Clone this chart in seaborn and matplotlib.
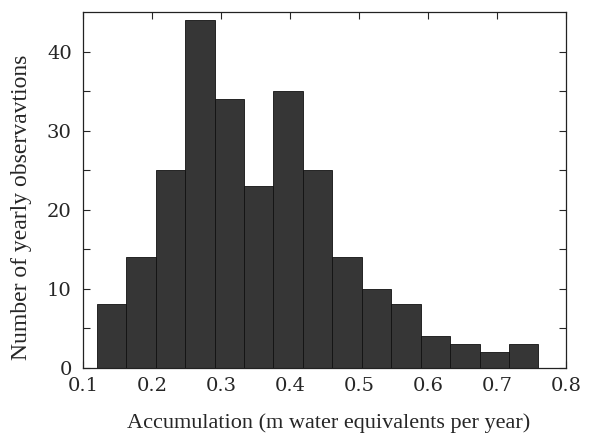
import numpy as np
import pandas as pd
import matplotlib
matplotlib.use("Agg")
import matplotlib.pyplot as plt
import seaborn as sns

# data
bin_start = 0.12
bin_end = 0.76
counts = [8, 14, 25, 44, 34, 23, 35, 25, 14, 10, 8, 4, 3, 2, 3]
x_ticks = [0.1, 0.2, 0.3, 0.4, 0.5, 0.6, 0.7, 0.8]
y_ticks = [0, 10, 20, 30, 40]

sns.set_theme(style="ticks")
plt.rcParams['font.family'] = ['Liberation Serif', 'DejaVu Serif']

edges = np.linspace(bin_start, bin_end, len(counts) + 1)
centers = (edges[:-1] + edges[1:]) / 2
df = pd.DataFrame({"acc": centers, "n": counts})

fig = plt.figure(figsize=(6.1, 4.36), dpi=100)
ax = fig.add_axes([0.136, 0.157, 0.792, 0.815])
sns.histplot(data=df, x="acc", weights="n", bins=len(counts),
             binrange=(bin_start, bin_end), ax=ax,
             color="#363636", alpha=1.0, edgecolor="#111111", linewidth=0.6)

ax.set_xlim(0.1, 0.8)
ax.set_ylim(0, 45)
ax.set_xticks(x_ticks)
ax.set_xticklabels([f"{t:.1f}" for t in x_ticks])
ax.set_yticks(y_ticks)
ax.set_yticks([5, 15, 25, 35], minor=True)
ax.tick_params(which="both", direction="in", top=True, right=True,
               length=5, width=0.8, labelsize=14, pad=7)
ax.tick_params(axis="y", pad=8)
for lab in ax.get_xticklabels() + ax.get_yticklabels():
    lab.set_family("DejaVu Serif")
for s in ax.spines.values():
    s.set_linewidth(0.9)
    s.set_color("#222222")
ax.set_xlabel("Accumulation (m water equivalents per year)", fontsize=16)
ax.set_ylabel("Number of yearly observavtions", fontsize=17)
ax.xaxis.set_label_coords(0.509, -0.128)
ax.yaxis.set_label_coords(-0.106, 0.45)
fig.savefig("out.png", dpi=100)
